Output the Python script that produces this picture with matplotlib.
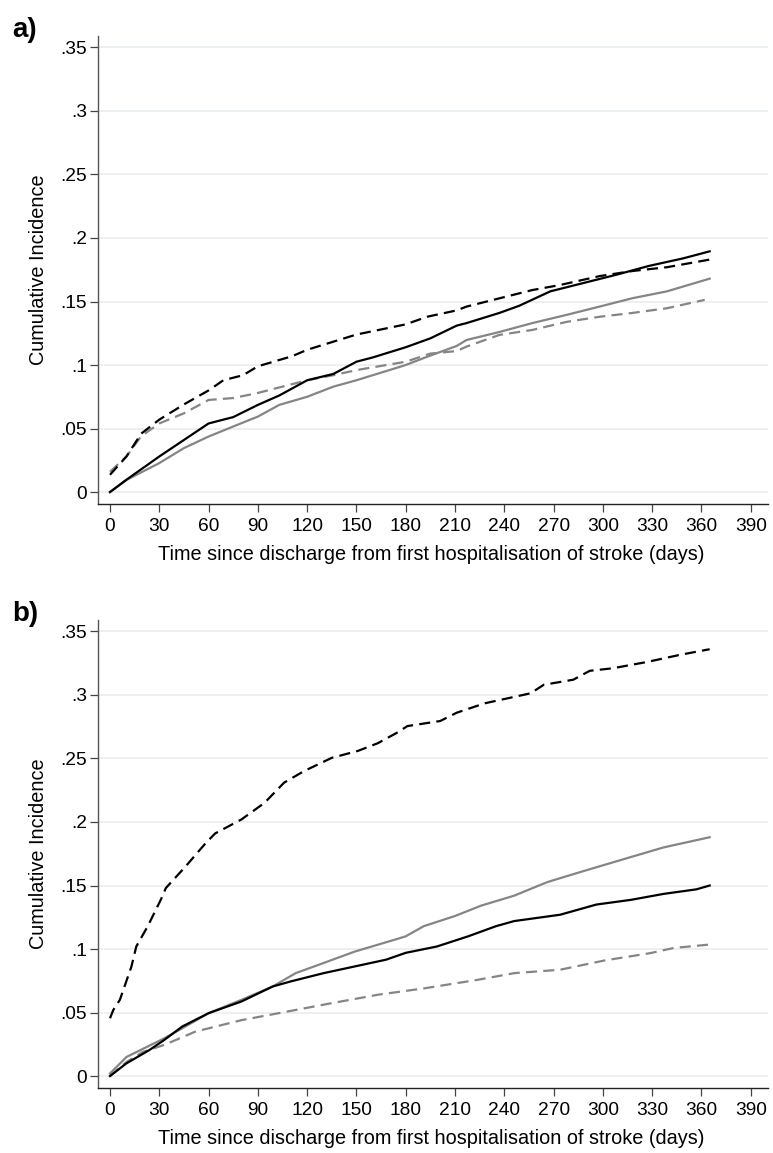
import matplotlib
matplotlib.use("Agg")
import matplotlib.pyplot as plt

plt.rcParams['font.family'] = ['Liberation Sans', 'DejaVu Sans']

# ---- Panel a data ----
a_black_solid_x = [0, 10, 30, 45, 60, 75, 90, 103, 120, 136, 150, 160, 180, 195, 211, 217, 237, 249, 268, 288, 308, 328, 349, 365]
a_black_solid_y = [0, .0097, .028, .041, .054, .059, .0686, .076, .088, .093, .1026, .106, .114, .121, .131, .133, .141, .1466, .158, .1645, .171, .178, .184, .1895]

a_black_dash_x = [0, 10, 19, 30, 45, 60, 69, 81, 90, 111, 120, 150, 180, 193, 211, 217, 257, 274, 298, 318, 339, 365]
a_black_dash_y = [.0136, .028, .046, .057, .069, .080, .088, .092, .099, .107, .112, .124, .132, .138, .143, .146, .159, .163, .170, .174, .177, .183]

a_grey_solid_x = [0, 10, 30, 45, 60, 75, 90, 103, 120, 136, 150, 180, 193, 211, 217, 237, 257, 278, 298, 318, 339, 365]
a_grey_solid_y = [0, .0095, .0228, .0346, .0437, .0516, .0594, .0686, .075, .083, .088, .100, .1065, .115, .1197, .126, .133, .1395, .146, .1526, .158, .168]

a_grey_dash_x = [0, 10, 19, 30, 45, 60, 75, 90, 105, 120, 136, 150, 180, 195, 211, 217, 237, 257, 278, 298, 318, 339, 362]
a_grey_dash_y = [.016, .028, .044, .054, .062, .0725, .074, .078, .083, .088, .092, .096, .1026, .109, .111, .1145, .1237, .1276, .134, .138, .141, .1447, .1513]

# ---- Panel b data ----
b_black_dash_x = [0, 2, 6, 13, 16, 23, 31, 34, 46, 58, 64, 80, 94, 106, 118, 135, 151, 163, 175, 181, 201, 211, 228, 256, 264, 282, 292, 306, 327, 347, 365]
b_black_dash_y = [.0455, .052, .06, .086, .102, .118, .139, .148, .165, .183, .191, .202, .215, .231, .24, .2505, .256, .262, .2705, .2755, .2795, .286, .2934, .3013, .308, .312, .319, .321, .326, .3316, .336]

b_black_solid_x = [0, 10, 24, 33, 44, 60, 80, 99, 110, 130, 149, 168, 180, 199, 218, 235, 246, 274, 296, 317, 337, 357, 365]
b_black_solid_y = [0, .01, .0205, .0284, .039, .0495, .0587, .0705, .0745, .081, .0863, .0916, .097, .102, .110, .118, .122, .127, .135, .1387, .1434, .147, .150]

b_grey_solid_x = [0, 10, 33, 44, 60, 80, 99, 113, 130, 149, 175, 180, 191, 210, 226, 246, 266, 286, 317, 337, 365]
b_grey_solid_y = [.002, .015, .0297, .0376, .0495, .060, .0705, .081, .089, .098, .108, .110, .118, .126, .1342, .142, .1526, .1605, .1724, .180, .188]

b_grey_dash_x = [0, 10, 20, 33, 52, 80, 108, 135, 163, 191, 224, 246, 274, 301, 329, 343, 364]
b_grey_dash_y = [0, .011, .019, .0245, .035, .044, .0508, .0574, .064, .069, .0758, .081, .0837, .091, .0968, .1008, .1034]

x_ticks = list(range(0, 391, 30))
y_ticks = [0, .05, .1, .15, .2, .25, .3, .35]
y_tick_labels = ['0', '.05', '.1', '.15', '.2', '.25', '.3', '.35']
x_label = 'Time since discharge from first hospitalisation of stroke (days)'
y_label = 'Cumulative Incidence'
panel_labels = ['a)', 'b)']

W, H = 773, 1153
fig = plt.figure(figsize=(W / 100, H / 100), dpi=100)

GREY = '#858585'
DASH = (0, (5, 2.8))
LW = 1.6
TICK_FS = 13.8
LABEL_FS = 14.3

def make_axes(top_px, bottom_px):
    left_px, right_px = 98, 768
    return fig.add_axes([left_px / W, 1 - bottom_px / H, (right_px - left_px) / W, (bottom_px - top_px) / H])

def style(ax, top_px, bottom_px, label):
    ax.set_xlim(-7.3, 400.5)
    ax.set_ylim(-0.0094, 0.359)
    ax.set_xticks(x_ticks)
    ax.set_xticklabels([str(t) for t in x_ticks])
    ax.set_yticks(y_ticks)
    ax.set_yticklabels(y_tick_labels)
    for s in ['top', 'right']:
        ax.spines[s].set_visible(False)
    ax.spines['left'].set_color('#555555')
    ax.spines['bottom'].set_color('#222222')
    ax.spines['left'].set_linewidth(1.0)
    ax.spines['bottom'].set_linewidth(1.0)
    ax.tick_params(axis='x', direction='out', length=6, width=0.9, color='#444444',
                   labelsize=TICK_FS, pad=4)
    ax.tick_params(axis='y', direction='out', length=5.5, width=0.9, color='#444444',
                   labelsize=TICK_FS, pad=2.5)
    ax.yaxis.grid(True, color='#e8eff2', linewidth=1.3)
    ax.set_axisbelow(True)
    fig.text(431.5 / W, 1 - (bottom_px + 50) / H, x_label, fontsize=LABEL_FS,
             ha='center', va='center')
    fig.text(38.5 / W, 1 - ((top_px + bottom_px) / 2) / H, y_label, fontsize=LABEL_FS,
             ha='center', va='center', rotation=90)
    fig.text(12 / W, 1 - (top_px - 6) / H, label, fontsize=20, fontweight='bold',
             va='center', ha='left')

ax1 = make_axes(36, 504)
style(ax1, 36, 504, panel_labels[0])
ax1.plot(a_grey_solid_x, a_grey_solid_y, color=GREY, lw=LW)
ax1.plot(a_grey_dash_x, a_grey_dash_y, color=GREY, lw=LW, linestyle=DASH)
ax1.plot(a_black_solid_x, a_black_solid_y, color='black', lw=LW)
ax1.plot(a_black_dash_x, a_black_dash_y, color='black', lw=LW, linestyle=DASH)

ax2 = make_axes(620, 1088)
style(ax2, 620, 1088, panel_labels[1])
ax2.plot(b_grey_solid_x, b_grey_solid_y, color=GREY, lw=LW)
ax2.plot(b_grey_dash_x, b_grey_dash_y, color=GREY, lw=LW, linestyle=DASH)
ax2.plot(b_black_solid_x, b_black_solid_y, color='black', lw=LW)
ax2.plot(b_black_dash_x, b_black_dash_y, color='black', lw=LW, linestyle=DASH)

fig.savefig('out.png', dpi=100)
